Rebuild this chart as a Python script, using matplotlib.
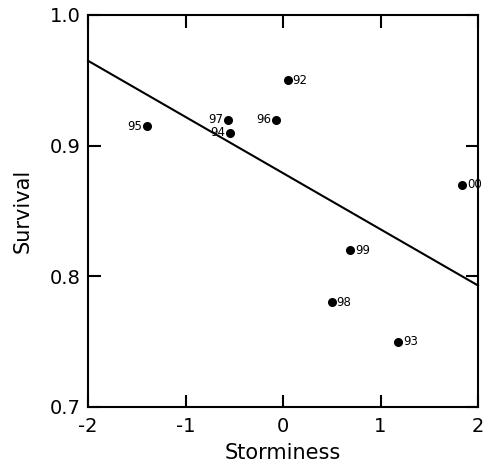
import matplotlib
matplotlib.use("Agg")
import matplotlib.pyplot as plt
import numpy as np

years = ["92", "93", "94", "95", "96", "97", "98", "99", "00"]
storminess = [0.05, 1.18, -0.54, -1.40, -0.07, -0.56, 0.50, 0.69, 1.84]
survival = [0.95, 0.75, 0.91, 0.915, 0.92, 0.92, 0.78, 0.82, 0.87]
label_side = ["r", "r", "l", "l", "l", "l", "r", "r", "r"]

fit_x = [-2.0, 2.0]
fit_y = [0.965, 0.793]

x_ticks = [-2, -1, 0, 1, 2]
y_ticks = [0.7, 0.8, 0.9, 1.0]

plt.rcParams['font.family'] = ['DejaVu Sans']

fig = plt.figure(figsize=(4.87, 4.66), dpi=100)
ax = fig.add_axes([88/487, 1-407/466, 390/487, 392/466])

ax.plot(fit_x, fit_y, color='black', lw=1.5, clip_on=False)
ax.plot(storminess, survival, 'o', color='black', ms=5.5, clip_on=False)

for x, y, t, s in zip(storminess, survival, years, label_side):
    if s == "r":
        ax.annotate(t, (x, y), xytext=(3.5, 0), textcoords='offset points',
                    ha='left', va='center', fontsize=8.5)
    else:
        ax.annotate(t, (x, y), xytext=(-3.5, 0), textcoords='offset points',
                    ha='right', va='center', fontsize=8.5)

ax.set_xlim(-2, 2)
ax.set_ylim(0.7, 1.0)
ax.set_xticks(x_ticks)
ax.set_xticklabels([str(v) for v in x_ticks])
ax.set_yticks(y_ticks)
ax.set_yticklabels([f"{v:.1f}" for v in y_ticks])
ax.tick_params(direction='in', length=9, width=1.5, top=True, right=True,
               labelsize=14)
ax.tick_params(axis='x', pad=7)
ax.tick_params(axis='y', pad=5)
for sp in ax.spines.values():
    sp.set_linewidth(1.5)
ax.set_xlabel("Storminess", fontsize=15)
ax.set_ylabel("Survival", fontsize=15)
ax.xaxis.set_label_coords(0.5, -(443 - 407) / 392)
ax.yaxis.set_label_coords((33 - 88) / 390, 0.5)

fig.savefig("out.png", dpi=100)
